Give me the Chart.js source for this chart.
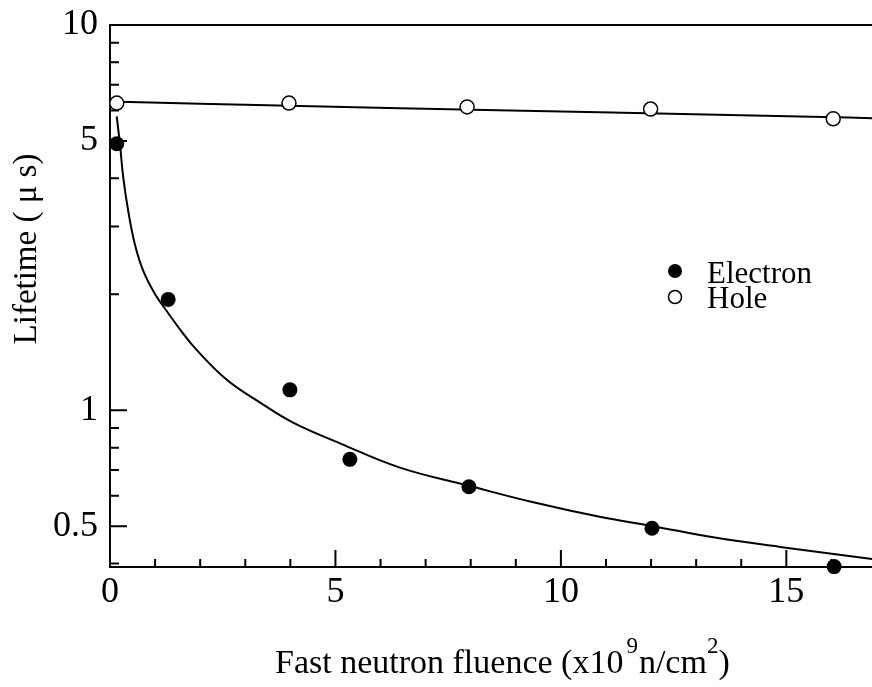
<!DOCTYPE html>
<html>
<head>
<meta charset="utf-8">
<script src="https://cdn.jsdelivr.net/npm/chart.js@4.4.1/dist/chart.umd.min.js"></script>
<style>
html,body{margin:0;padding:0;background:#fff;}
</style>
</head>
<body>
<canvas id="lifetime" width="872" height="687"></canvas>
<script>
// measured lifetimes (us) vs fast neutron fluence (x10^9 n/cm^2)
const elecFluence = [0.15, 1.29, 3.99, 5.32, 7.96, 12.02, 16.06];
const elecLifetime = [4.92, 1.94, 1.13, 0.746, 0.633, 0.494, 0.393];
const holeFluence = [0.15, 3.97, 7.92, 11.99, 16.04];
const holeLifetime = [6.27, 6.27, 6.13, 6.05, 5.71];

// fitted curves
const elecFitX = [0.149, 0.222, 0.295, 0.406, 0.554, 0.738, 1.0, 1.257, 1.59, 1.885, 2.59, 3.33, 4.06, 5.10, 6.43, 7.96, 9.39, 10.86, 12.02, 13.38, 14.86, 16.9];
const elecFitY = [5.79, 4.89, 4.01, 3.28, 2.69, 2.30, 2.00, 1.81, 1.60, 1.45, 1.20, 1.047, 0.929, 0.821, 0.710, 0.637, 0.577, 0.529, 0.501, 0.468, 0.442, 0.411];
const holeFitX = [0, 2.0, 6.43, 10.86, 15.3, 16.9];
const holeFitY = [6.33, 6.25, 6.08, 5.94, 5.79, 5.73];

// axis ticks
const xTicks = [0, 1, 2, 3, 4, 5, 6, 7, 8, 9, 10, 11, 12, 13, 14, 15, 16];
const xLabels = [0, 5, 10, 15];
const yTicks = [0.4, 0.5, 0.6, 0.7, 0.8, 0.9, 1, 2, 3, 4, 5, 6, 7, 8, 9, 10];
const yLabels = [0.5, 1, 5, 10];

const serif = "'Liberation Serif', 'DejaVu Serif', serif";
const pts = (xs, ys) => xs.map((x, i) => ({ x: x, y: ys[i] }));

// inward tick marks + top frame line
const frame = {
  id: "frame",
  beforeDatasetsDraw(chart){
    const { ctx, chartArea: a, scales: { x, y } } = chart;
    ctx.save();
    ctx.strokeStyle = "#000";
    ctx.lineWidth = 2;
    ctx.beginPath();
    ctx.moveTo(a.left, a.top);
    ctx.lineTo(a.right, a.top);
    x.ticks.forEach(t => {
      const px = x.getPixelForValue(t.value);
      const len = xLabels.includes(t.value) ? 17 : 8;
      ctx.moveTo(px, a.bottom);
      ctx.lineTo(px, a.bottom - len);
    });
    y.ticks.forEach(t => {
      const py = y.getPixelForValue(t.value);
      const len = yLabels.includes(t.value) ? 17 : 9;
      ctx.moveTo(a.left, py);
      ctx.lineTo(a.left + len, py);
    });
    ctx.stroke();
    ctx.restore();
  },
  afterDraw(chart){
    const ctx = chart.ctx;
    ctx.save();
    ctx.fillStyle = "#000";
    ctx.textBaseline = "alphabetic";

    // x title with superscripts
    let cx = 275;
    const base = 673;
    const part = (s, size, dy) => {
      ctx.font = size + "px " + serif;
      ctx.fillText(s, cx, base - dy);
      cx += ctx.measureText(s).width;
    };
    part("Fast neutron fluence (x10", 34, 0);
    cx += 3;
    part("9", 23, 20);
    cx += 1;
    part("n/cm", 34, 0);
    part("2", 23, 20);
    part(")", 34, 0);

    // y title
    ctx.save();
    ctx.translate(36, 249);
    ctx.rotate(-Math.PI / 2);
    ctx.font = "33px " + serif;
    ctx.textAlign = "center";
    ctx.fillText("Lifetime ( \u03bc s)", 0, 0);
    ctx.restore();

    // legend
    ctx.lineWidth = 1.5;
    ctx.beginPath();
    ctx.arc(675, 271, 7, 0, Math.PI * 2);
    ctx.fill();
    ctx.beginPath();
    ctx.arc(675, 297, 6.5, 0, Math.PI * 2);
    ctx.fillStyle = "#fff";
    ctx.fill();
    ctx.strokeStyle = "#000";
    ctx.stroke();
    ctx.fillStyle = "#000";
    ctx.font = "31px " + serif;
    ctx.fillText("Electron", 707, 283);
    ctx.fillText("Hole", 707, 308);
    ctx.restore();
  }
};

new Chart(document.getElementById("lifetime"), {
  type: "scatter",
  data: {
    datasets: [
      {
        label: "Hole",
        data: pts(holeFluence, holeLifetime),
        pointRadius: 7,
        pointBackgroundColor: "#fff",
        pointBorderColor: "#000",
        pointBorderWidth: 1.5,
        showLine: false,
        clip: false
      },
      {
        label: "Electron",
        data: pts(elecFluence, elecLifetime),
        pointRadius: 7.5,
        pointBackgroundColor: "#000",
        pointBorderColor: "#000",
        pointBorderWidth: 0,
        showLine: false,
        clip: false
      },
      {
        label: "Hole fit",
        data: pts(holeFitX, holeFitY),
        showLine: true,
        pointRadius: 0,
        borderColor: "#000",
        borderWidth: 2,
        cubicInterpolationMode: "monotone"
      },
      {
        label: "Electron fit",
        data: pts(elecFitX, elecFitY),
        showLine: true,
        pointRadius: 0,
        borderColor: "#000",
        borderWidth: 2,
        tension: 0.4
      }
    ]
  },
  options: {
    responsive: false,
    animation: false,
    devicePixelRatio: 1,
    layout: { autoPadding: false, padding: { top: 25, right: 0, left: 0, bottom: 0 } },
    plugins: { legend: { display: false }, tooltip: { enabled: false } },
    scales: {
      x: {
        type: "linear",
        min: 0,
        max: 16.9,
        afterBuildTicks: s => { s.ticks = xTicks.map(v => ({ value: v })); },
        afterFit: s => { s.height = 120; s.paddingLeft = 0; s.paddingRight = 0; },
        grid: { display: false, drawTicks: false },
        border: { display: true, color: "#000", width: 2 },
        ticks: {
          autoSkip: false,
          maxRotation: 0,
          padding: 4,
          color: "#000",
          font: { family: serif, size: 36 },
          callback: v => xLabels.includes(v) ? String(v) : ""
        }
      },
      y: {
        type: "logarithmic",
        min: 0.392,
        max: 10,
        afterBuildTicks: s => { s.ticks = yTicks.map(v => ({ value: v })); },
        afterFit: s => { s.width = 110; s.paddingTop = 0; s.paddingBottom = 0; },
        grid: { display: false, drawTicks: false },
        border: { display: true, color: "#000", width: 2 },
        ticks: {
          autoSkip: false,
          padding: 12,
          color: "#000",
          font: { family: serif, size: 36 },
          callback: v => yLabels.includes(v) ? String(v) : ""
        }
      }
    }
  },
  plugins: [frame]
});
</script>
</body>
</html>
